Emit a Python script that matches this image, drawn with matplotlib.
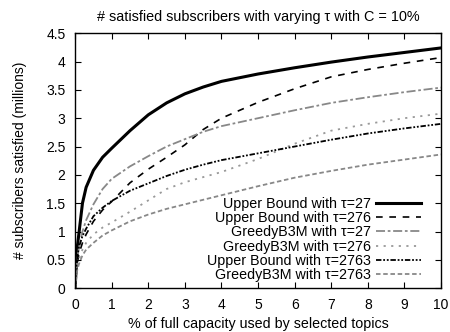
import matplotlib.pyplot as plt

plt.rcParams['font.family'] = ['Liberation Sans', 'DejaVu Sans']

# x axis: % of full capacity used by selected topics
x = [0, 0.05, 0.1, 0.2, 0.3, 0.5, 0.75, 1, 1.5, 2, 2.5, 3, 3.5, 4, 5, 6, 7, 8, 9, 10]

# subscribers satisfied (millions)
upper_27 = [0, 0.68, 0.95, 1.50, 1.78, 2.08, 2.31, 2.47, 2.78, 3.06, 3.27, 3.43, 3.55, 3.65, 3.78, 3.89, 3.99, 4.08, 4.16, 4.24]
upper_276 = [0, 0.40, 0.60, 0.80, 0.95, 1.18, 1.38, 1.53, 1.86, 2.10, 2.31, 2.53, 2.80, 3.00, 3.28, 3.52, 3.73, 3.86, 3.97, 4.07]
greedy_27 = [0, 0.50, 0.70, 1.00, 1.20, 1.48, 1.75, 1.93, 2.15, 2.33, 2.50, 2.63, 2.76, 2.86, 3.00, 3.14, 3.27, 3.37, 3.46, 3.54]
greedy_276 = [0, 0.35, 0.50, 0.68, 0.80, 0.95, 1.07, 1.16, 1.35, 1.55, 1.75, 1.87, 1.96, 2.05, 2.28, 2.55, 2.78, 2.90, 3.00, 3.08]
upper_2763 = [0, 0.50, 0.72, 0.92, 1.05, 1.27, 1.42, 1.54, 1.72, 1.85, 1.98, 2.09, 2.18, 2.26, 2.38, 2.50, 2.62, 2.73, 2.82, 2.90]
greedy_2763 = [0, 0.30, 0.42, 0.58, 0.68, 0.80, 0.93, 1.02, 1.18, 1.30, 1.40, 1.48, 1.56, 1.64, 1.80, 1.95, 2.07, 2.18, 2.27, 2.36]

gray = '#888888'

fig = plt.figure(figsize=(4.5, 3.32), dpi=100)
ax = fig.add_axes([0.167, 0.132, 0.813, 0.768])

ax.plot(x, upper_27, color='black', lw=2.2, label='Upper Bound with τ=27')
ax.plot(x, upper_276, color='black', lw=1.2, dashes=(4, 4), label='Upper Bound with τ=276')
ax.plot(x, greedy_27, color=gray, lw=1.3, dashes=(5, 1.5, 1.5, 1.5), label='GreedyB3M with τ=27')
ax.plot(x, greedy_276, color='#999999', lw=1.3, dashes=(1.2, 3), label='GreedyB3M with τ=276')
ax.plot(x, upper_2763, color='black', lw=1.3, dashes=(3, 1, 1, 1, 1, 1), label='Upper Bound with τ=2763')
ax.plot(x, greedy_2763, color=gray, lw=1.3, dashes=(2.5, 1.5), label='GreedyB3M with τ=2763')

ax.set_xlim(0, 10)
ax.set_ylim(0, 4.5)
ax.set_xticks(range(0, 11))
ax.set_yticks([0, 0.5, 1, 1.5, 2, 2.5, 3, 3.5, 4, 4.5])
ax.set_yticklabels(['0', '0.5', '1', '1.5', '2', '2.5', '3', '3.5', '4', '4.5'])
ax.tick_params(direction='in', top=True, right=True, length=4, labelsize=10, pad=7)
for s in ax.spines.values():
    s.set_linewidth(1.0)

ax.set_title('# satisfied subscribers with varying τ with C = 10%', fontsize=10.4, pad=9)
ax.set_xlabel('% of full capacity used by selected topics', fontsize=10.3, labelpad=4)
ax.set_ylabel('# subscribers satisfied (millions)', fontsize=10, labelpad=14)

leg = ax.legend(loc='lower right', bbox_to_anchor=(0.973, -0.016), frameon=False,
                markerfirst=False, fontsize=10.25, handlelength=3.2, labelspacing=0.02,
                borderaxespad=0.3, handletextpad=0.3)
for t in leg.get_texts():
    t.set_ha('right')
leg._legend_box.align = 'right'

fig.savefig('out.png', dpi=100)
